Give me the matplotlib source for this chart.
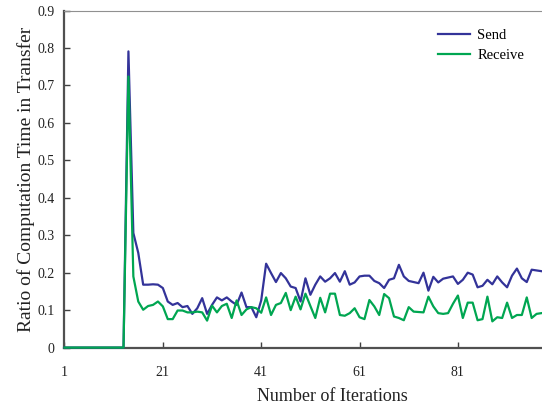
import matplotlib.pyplot as plt
import numpy as np

plt.rcParams['font.family'] = ['Liberation Serif', 'DejaVu Serif']

# ratio of computation time in transfer, per iteration
send = [0.0] * 13 + [
    0.791, 0.306, 0.253, 0.168, 0.168,
    0.169, 0.168, 0.159, 0.123, 0.114, 0.119, 0.108, 0.111, 0.090, 0.105,
    0.132, 0.090, 0.114, 0.134, 0.126, 0.134, 0.123, 0.114, 0.147, 0.108,
    0.108, 0.081, 0.126, 0.224, 0.199, 0.175, 0.199, 0.185, 0.163, 0.159,
    0.123, 0.185, 0.141, 0.168, 0.190, 0.176, 0.185, 0.199, 0.176, 0.204,
    0.168, 0.174, 0.190, 0.192, 0.192, 0.178, 0.172, 0.159, 0.181, 0.185,
    0.221, 0.190, 0.178, 0.175, 0.172,
    0.200, 0.152, 0.189, 0.174, 0.184, 0.187, 0.190, 0.170, 0.181, 0.200,
    0.195, 0.161, 0.165, 0.181, 0.169, 0.190, 0.174, 0.161, 0.192, 0.211,
    0.185, 0.175, 0.208, 0.206, 0.204,
]
receive = [0.0] * 13 + [
    0.724, 0.190, 0.123, 0.101, 0.111,
    0.114, 0.123, 0.110, 0.076, 0.076, 0.099, 0.099, 0.094, 0.094, 0.096,
    0.094, 0.072, 0.112, 0.094, 0.111, 0.117, 0.079, 0.126, 0.087, 0.102,
    0.108, 0.105, 0.093, 0.134, 0.087, 0.114, 0.119, 0.146, 0.100, 0.136,
    0.102, 0.144, 0.111, 0.079, 0.133, 0.094, 0.144, 0.144, 0.087, 0.085,
    0.092, 0.105, 0.081, 0.076, 0.127, 0.110, 0.087, 0.143, 0.132, 0.083,
    0.079, 0.073, 0.108, 0.096, 0.095,
    0.094, 0.136, 0.110, 0.092, 0.090, 0.092, 0.117, 0.139, 0.079, 0.120,
    0.120, 0.073, 0.076, 0.136, 0.070, 0.081, 0.079, 0.120, 0.079, 0.087,
    0.087, 0.134, 0.079, 0.090, 0.092,
]
iterations = np.arange(1, len(send) + 1)
xticks = [1, 21, 41, 61, 81]
yticks = [0, 0.1, 0.2, 0.3, 0.4, 0.5, 0.6, 0.7, 0.8, 0.9]
ytick_labels = ["0", "0.1", "0.2", "0.3", "0.4", "0.5", "0.6", "0.7", "0.8", "0.9"]

fig = plt.figure(figsize=(5.42, 4.07), dpi=100)
ax = fig.add_axes([0.119, 0.146, 0.881, 0.828])

ax.plot(iterations, send, color="#333399", lw=1.6, label="Send", zorder=3, clip_on=False)
ax.plot(iterations, receive, color="#00A651", lw=1.6, label="Receive", zorder=4, clip_on=False)

ax.set_xlim(1, 98.1)
ax.set_ylim(0, 0.9)
ax.set_xticks(xticks)
ax.set_yticks(yticks)
ax.set_yticklabels(ytick_labels)
ax.tick_params(direction="in", length=4, width=1, color="#404040", labelsize=10, labelcolor="#222222")
ax.tick_params(axis="x", pad=13)
ax.tick_params(axis="y", pad=7)

for side in ["left", "bottom"]:
    ax.spines[side].set_color("#505050")
    ax.spines[side].set_linewidth(1.6)
ax.spines["top"].set_color("#909090")
ax.spines["top"].set_linewidth(0.8)
ax.spines["right"].set_visible(False)

ax.set_xlabel("Number of Iterations", fontsize=13, color="#222222")
ax.xaxis.set_label_coords(0.56, -0.12)
ax.set_ylabel("Ratio of Computation Time in Transfer", fontsize=14, color="#222222")
ax.yaxis.set_label_coords(-0.062, 0.5)

ax.legend(loc="upper right", frameon=False, fontsize=10.5, handlelength=2.2,
          bbox_to_anchor=(0.99, 0.985), labelspacing=0.45, handletextpad=0.5)

fig.savefig("out.png", dpi=100)
